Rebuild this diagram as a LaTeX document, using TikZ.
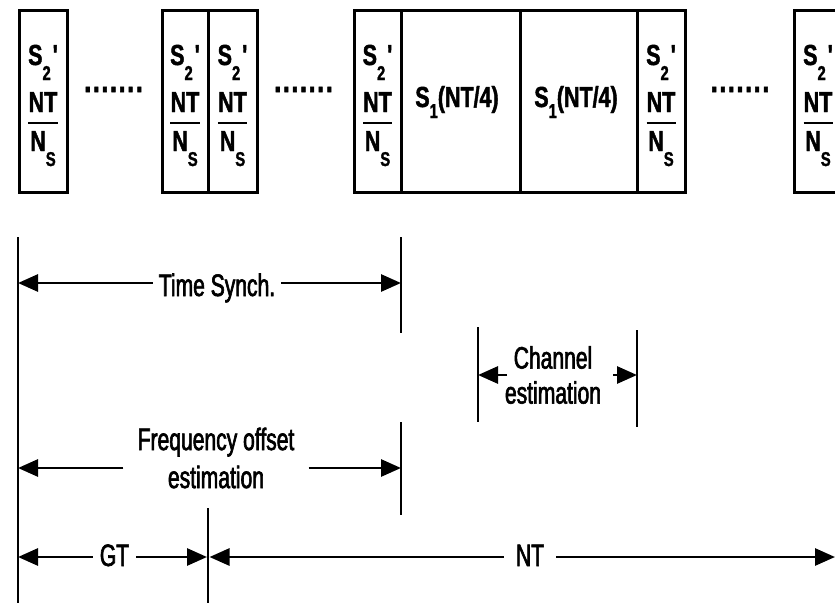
\documentclass[tikz,border=0pt]{standalone}
\usepackage{fontspec}
\setmainfont{Liberation Sans}
\newfontfamily\labfont[FakeStretch=0.68,FakeBold=2]{Liberation Sans}
\newfontfamily\bxfont[FakeStretch=0.74,FakeBold=1.5]{Liberation Sans}
\usetikzlibrary{arrows.meta}
\newcommand\lsub[2]{\raisebox{-#1}{\fontsize{20}{20}\selectfont #2}}
\newcommand\mydots{{\fontsize{34}{34}\selectfont.\kern1.6pt.\kern1.6pt.\kern1.6pt.\kern1.6pt.\kern1.6pt.\kern1.6pt.}}
\newcommand\stwo[2]{%
  \node[bt] (#1-s) at (#2,65) {S\lsub{15pt}{2}\kern2pt'};
  \node[bt] (#1-t) at (#2,112) {NT};
  \draw[frac] ([yshift=-11pt]#1-t.south west) -- ([yshift=-11pt]#1-t.south east);
  \node[bt] (#1-n) at (#2,151) {N\lsub{15pt}{S}};
}
\tikzset{
  cell/.style={draw, line width=3pt, minimum height=182pt, inner sep=0pt},
  bt/.style={font=\bxfont\bfseries\fontsize{29}{29}\selectfont, inner sep=0pt, anchor=base},
  frac/.style={line width=2pt},
  lab/.style={font=\labfont\fontsize{31}{38}\selectfont, inner sep=0pt, align=center},
  arr/.style={line width=2.8pt, -{Triangle[length=20pt,width=17pt]}},
  vl/.style={line width=2.4pt},
}
\begin{document}
\begin{tikzpicture}[x=1pt,y=-1pt]
\clip (0,0) rectangle (835,605);
\fill[white] (0,0) rectangle (835,605);
% cells
\node[cell, minimum width=48pt] (c1) at (43,101) {};
\node[cell, minimum width=46pt] (c2) at (185,101) {};
\node[cell, minimum width=49pt] (c3) at (232.5,101) {};
\node[cell, minimum width=47pt] (c4) at (377.5,101) {};
\node[cell, minimum width=119pt] (c5) at (460.5,101) {};
\node[cell, minimum width=117pt] (c6) at (578.5,101) {};
\node[cell, minimum width=48pt] (c7) at (661,101) {};
\node[cell, minimum width=48pt] (c8) at (818,101) {};
% cell texts
\stwo{t1}{43}
\stwo{t2}{185}
\stwo{t3}{232.5}
\stwo{t4}{377.5}
\stwo{t7}{661}
\stwo{t8}{818}
\node[bt] (s1a) at (457,107) {S\lsub{11pt}{1}(NT/4)};
\node[bt] (s1b) at (576,107) {S\lsub{11pt}{1}(NT/4)};
\node[bt] (d1) at (113.5,92) {\mydots};
\node[bt] (d2) at (303.5,92) {\mydots};
\node[bt] (d3) at (740,92) {\mydots};
% vertical markers
\coordinate (v0t) at (18,237); \coordinate (v0b) at (18,603);
\coordinate (v1t) at (401,237); \coordinate (v1b) at (401,333);
\coordinate (v2t) at (401,422); \coordinate (v2b) at (401,515);
\coordinate (v3t) at (478,327); \coordinate (v3b) at (478,422);
\coordinate (v4t) at (637,330); \coordinate (v4b) at (637,427);
\coordinate (v5t) at (208,508); \coordinate (v5b) at (208,603);
\coordinate (rend) at (835,557);
\foreach \v in {v0,v1,v2,v3,v4,v5} \draw[vl] (\v t) -- (\v b);
% row heights
\coordinate (yTS) at (0,283);
\coordinate (yFO) at (0,468);
\coordinate (yCH) at (0,375);
\coordinate (yGT) at (0,557);
% Time Synch
\node[lab, anchor=base, inner xsep=6pt] (ts) at (217,296) {Time Synch.};
\draw[arr] (ts.west |- yTS) -- (v0t |- yTS);
\draw[arr] (ts.east |- yTS) -- (v1t |- yTS);
% Frequency offset
\node[lab, inner xsep=14pt] (fo) at (216,458) {Frequency offset\\estimation};
\draw[arr] (fo.west |- yFO) -- (v0t |- yFO);
\draw[arr] (fo.east |- yFO) -- (v2t |- yFO);
% Channel estimation
\node[lab, font=\labfont\fontsize{31}{35}\selectfont] (ch) at (553,375) {Channel\\estimation};
\coordinate (chl) at (507,375);
\coordinate (chr) at (613,375);
\draw[arr] (chl) -- (chl -| v3t);
\draw[arr] (chr) -- (chr -| v4t);
% GT / NT
\node[lab, anchor=base, inner xsep=7pt] (gt) at (114.5,566) {GT};
\draw[arr] (gt.west |- yGT) -- (v0t |- yGT);
\draw[arr] (gt.east |- yGT) -- ([xshift=-1pt]v5t |- yGT);
\node[lab, anchor=base, inner xsep=12pt] (nt) at (530,566) {NT};
\draw[arr] (nt.west |- yGT) -- ([xshift=1.5pt]v5t |- yGT);
\draw[arr] (nt.east |- yGT) -- (rend);
\end{tikzpicture}
\end{document}
